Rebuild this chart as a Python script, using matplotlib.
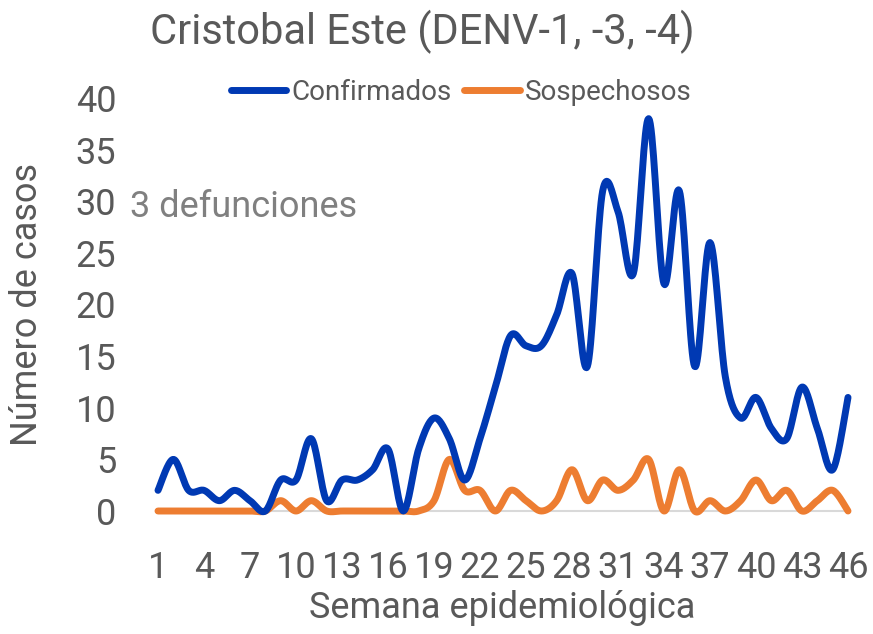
import numpy as np
import matplotlib
matplotlib.use("Agg")
import matplotlib.pyplot as plt

weeks = list(range(1, 47))
confirmados = [2, 5, 2, 2, 1, 2, 1, 0, 3, 3,
               7, 1, 3, 3, 4, 6, 0, 6, 9, 7,
               3, 7, 12, 17, 16, 16, 19, 23, 14, 31,
               29, 23, 38, 22, 31, 14, 26, 13, 9, 11,
               8, 7, 12, 8, 4, 11]
sospechosos = [0, 0, 0, 0, 0, 0, 0, 0, 1, 0,
               1, 0, 0, 0, 0, 0, 0, 0, 1, 5,
               2, 2, 0, 2, 1, 0, 1, 4, 1, 3,
               2, 3, 5, 0, 4, 0, 1, 0, 1, 3,
               1, 2, 0, 1, 2, 0]
xtick_labels = list(range(1, 47, 3))

BLUE = "#0039B3"
ORANGE = "#ED7D31"
GRAY = "#595959"

plt.rcParams['font.family'] = ['Roboto', 'DejaVu Sans']


def smooth(x, y, n=20):
    # Excel-style smoothed line: cubic bezier with catmull-rom control points
    x = np.asarray(x, float)
    y = np.asarray(y, float)
    px, py = [], []
    t = np.linspace(0, 1, n)
    for i in range(len(x) - 1):
        x0, y0 = x[max(i - 1, 0)], y[max(i - 1, 0)]
        x3, y3 = x[min(i + 2, len(x) - 1)], y[min(i + 2, len(y) - 1)]
        c1x = x[i] + (x[i + 1] - x0) / 6
        c1y = y[i] + (y[i + 1] - y0) / 6
        c2x = x[i + 1] - (x3 - x[i]) / 6
        c2y = y[i + 1] - (y3 - y[i]) / 6
        bx = ((1 - t) ** 3 * x[i] + 3 * (1 - t) ** 2 * t * c1x
              + 3 * (1 - t) * t ** 2 * c2x + t ** 3 * x[i + 1])
        by = ((1 - t) ** 3 * y[i] + 3 * (1 - t) ** 2 * t * c1y
              + 3 * (1 - t) * t ** 2 * c2y + t ** 3 * y[i + 1])
        px.extend(bx)
        py.extend(by)
    return np.array(px), np.array(py)


fig = plt.figure(figsize=(8.73, 6.34), dpi=100)
ax = fig.add_axes([158 / 873, 1 - 511 / 634, 690 / 873, 413 / 634])

sx, sy = smooth(weeks, confirmados)
ax.plot(sx, sy, color=BLUE, lw=5, solid_capstyle='round', clip_on=False,
        label='Confirmados', zorder=5)
sx, sy = smooth(weeks, sospechosos)
ax.plot(sx, sy, color=ORANGE, lw=5, solid_capstyle='round', clip_on=False,
        label='Sospechosos', zorder=4)

ax.set_xlim(1, 46)
ax.set_ylim(0, 40)
ax.set_yticks(range(0, 41, 5))
ax.set_xticks(xtick_labels)
ax.tick_params(length=0, labelsize=26, colors=GRAY)
ax.tick_params(axis='x', pad=28)
ax.tick_params(axis='y', pad=30)
for s in ['top', 'right', 'left']:
    ax.spines[s].set_visible(False)
ax.spines['bottom'].set_color('#D9D9D9')
ax.spines['bottom'].set_linewidth(1.5)
ax.spines['bottom'].set_zorder(1)

fig.text(502 / 873, 1 - 608 / 634, 'Semana epidemiológica', ha='center',
         va='center', fontsize=26, color=GRAY)
fig.text(27 / 873, 1 - 305 / 634, 'Número de casos', ha='center',
         va='center', fontsize=26, color=GRAY, rotation=90)

fig.text(422 / 873, 1 - 32 / 634, 'Cristobal Este (DENV-1, -3, -4)', ha='center',
         va='center', fontsize=30, color=GRAY)
fig.text(130 / 873, 1 - 207 / 634, '3 defunciones', ha='left', va='center',
         fontsize=26, color='#808080')

ax.legend(loc='center', bbox_to_anchor=(461 / 873, 1 - 92 / 634),
          bbox_transform=fig.transFigure, ncol=2, frameon=False,
          fontsize=20, labelcolor=GRAY, handlelength=2.0, handletextpad=0.18,
          columnspacing=0.45)

fig.savefig('out.png', dpi=100)
